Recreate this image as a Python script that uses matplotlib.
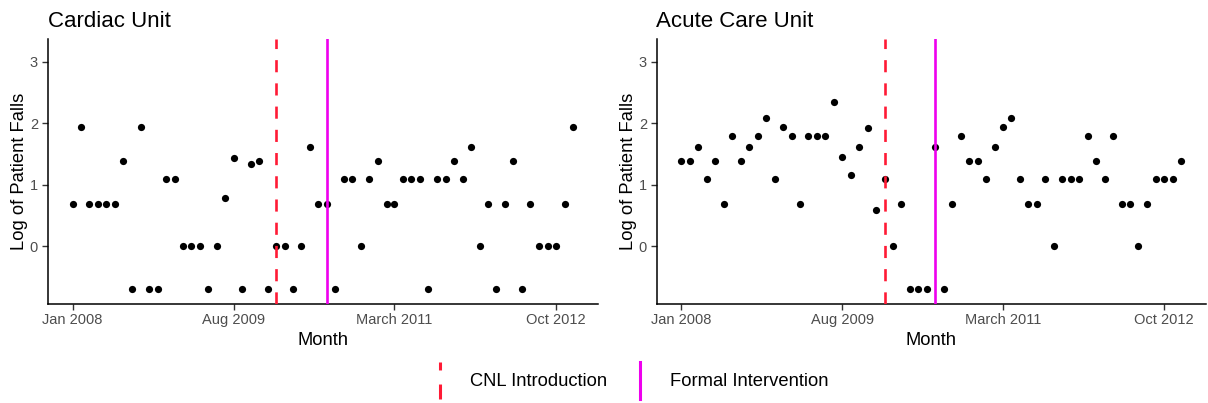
import matplotlib
matplotlib.use("Agg")
import matplotlib.pyplot as plt
import matplotlib.dates as mdates
from matplotlib.lines import Line2D
import pandas as pd
import numpy as np

plt.rcParams['font.family'] = ['Liberation Sans', 'DejaVu Sans']

# ---- data ----
months = pd.date_range("2008-01-01", periods=60, freq="MS")

cardiac = [0.693, 1.946, 0.693, 0.693, 0.693, 0.693, 1.386, -0.693, 1.946, -0.693,
           -0.693, 1.099, 1.099, 0.0, 0.0, 0.0, -0.693, 0.0, 0.79, 1.435,
           -0.693, 1.34, 1.386, -0.693, 0.0, 0.0, -0.693, 0.0, 1.609, 0.693,
           0.693, -0.693, 1.099, 1.099, 0.0, 1.099, 1.386, 0.693, 0.693, 1.099,
           1.099, 1.099, -0.693, 1.099, 1.099, 1.386, 1.099, 1.609, 0.0, 0.693,
           -0.693, 0.693, 1.386, -0.693, 0.693, 0.0, 0.0, 0.0, 0.693, 1.946]

acute = [1.386, 1.386, 1.609, 1.099, 1.386, 0.693, 1.792, 1.386, 1.609, 1.792,
         2.079, 1.099, 1.946, 1.792, 0.693, 1.792, 1.792, 1.792, 2.35, 1.451,
         1.158, 1.609, 1.92, 0.587, 1.099, 0.0, 0.693, -0.693, -0.693, -0.693,
         1.609, -0.693, 0.693, 1.792, 1.386, 1.386, 1.099, 1.609, 1.946, 2.079,
         1.099, 0.693, 0.693, 1.099, 0.0, 1.099, 1.099, 1.099, 1.792, 1.386,
         1.099, 1.792, 0.693, 0.693, 0.0, 0.693, 1.099, 1.099, 1.099, 1.386]

panel_titles = ["Cardiac Unit", "Acute Care Unit"]
cnl_date = pd.Timestamp("2010-01-01")
formal_date = pd.Timestamp("2010-07-01")
tick_dates = [pd.Timestamp("2008-01-01"), pd.Timestamp("2009-08-01"),
              pd.Timestamp("2011-03-01"), pd.Timestamp("2012-10-01")]
tick_labels = ["Jan 2008", "Aug 2009", "March 2011", "Oct 2012"]
y_ticks = [0, 1, 2, 3]
legend_labels = ["CNL Introduction", "Formal Intervention"]

RED = "#FF1A35"
MAG = "#EE00EE"

W, H = 1208, 403
fig = plt.figure(figsize=(W / 100, H / 100), dpi=100)

def fx(px):
    return px / W

def fy(py):
    return 1 - py / H

ax_boxes = [(47.5, 38.5, 598, 304), (656.5, 38.5, 1206, 304)]

span = months[-1] - months[0]
xmin = months[0] - span * 0.05
xmax = months[-1] + span * 0.05

for box, vals, title in zip(ax_boxes, [cardiac, acute], panel_titles):
    l, t, r, b = box
    ax = fig.add_axes([fx(l), fy(b), fx(r) - fx(l), fy(t) - fy(b)])
    ax.plot(months, vals, 'o', color='black', ms=5.2, mec='none', zorder=3)
    ax.axvline(cnl_date, color=RED, lw=1.9, linestyle=(0, (4.6, 4.2)), zorder=4)
    ax.axvline(formal_date, color=MAG, lw=1.9, zorder=4)
    ax.set_xlim(xmin, xmax)
    ax.set_ylim(-0.94, 3.38)
    ax.set_xticks(tick_dates)
    ax.set_xticklabels(tick_labels)
    ax.set_yticks(y_ticks)
    for s in ['top', 'right']:
        ax.spines[s].set_visible(False)
    for s in ['left', 'bottom']:
        ax.spines[s].set_linewidth(1.1)
        ax.spines[s].set_color('black')
    ax.tick_params(axis='both', length=4.3, width=1.0, color='#333333',
                   labelsize=10.5, labelcolor='#4D4D4D', pad=2.5)
    ax.set_xlabel("Month", fontsize=13.2, color='black', labelpad=3.5)
    ax.set_ylabel("Log of Patient Falls", fontsize=13.2, color='black', labelpad=1)
    ax.set_title(title, loc='left', fontsize=16, color='black', pad=8.5)

# ---- legend (vertical keys like ggplot vline) ----
fig.add_artist(Line2D([fx(440), fx(440)], [fy(399), fy(362)], color=RED, lw=2.2,
                      linestyle=(0, (4.9, 4.6)), transform=fig.transFigure))
fig.add_artist(Line2D([fx(640), fx(640)], [fy(399), fy(362)], color=MAG, lw=2.2,
                      transform=fig.transFigure))
fig.text(fx(470), fy(381), legend_labels[0], fontsize=13.2, va='center', ha='left')
fig.text(fx(670.5), fy(381), legend_labels[1], fontsize=13.2, va='center', ha='left')

fig.savefig("out.png", dpi=100)
